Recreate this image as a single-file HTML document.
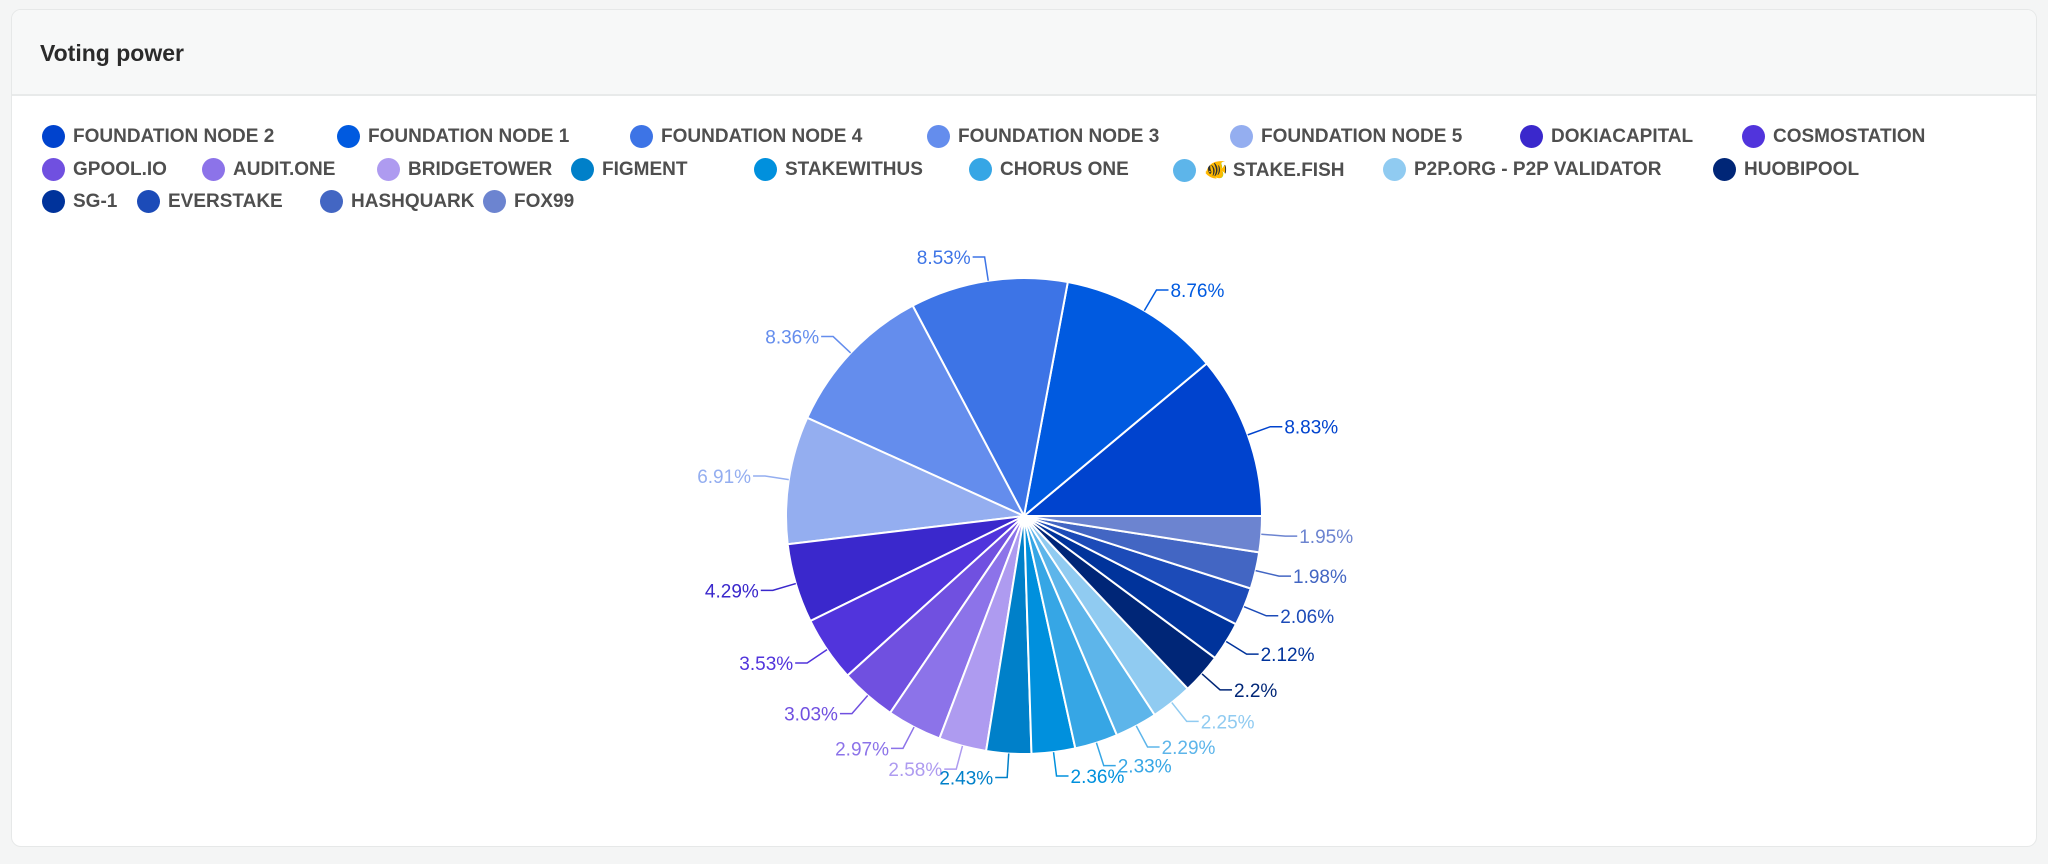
<!DOCTYPE html>
<html><head><meta charset="utf-8">
<style>
html,body{margin:0;padding:0;background:#f4f5f5;width:2048px;height:864px;overflow:hidden;font-family:"Liberation Sans",sans-serif;}
.card{position:absolute;left:11px;top:9px;width:2024px;height:836px;background:#fff;border:1px solid #e6e8e8;border-radius:10px;overflow:hidden;}
.head{position:absolute;left:0;top:0;width:100%;height:84px;background:#f7f8f8;border-bottom:2px solid #e8eaea;}
.title{position:absolute;left:28px;top:30px;font-size:23px;font-weight:bold;color:#2b2b2b;}
.li{position:absolute;display:flex;align-items:center;font-size:19px;font-weight:bold;color:#4f4f4f;white-space:nowrap;}
.dot{width:23px;height:23px;border-radius:50%;margin-right:8px;}
</style></head><body>
<div class="card">
 <div class="head"><div class="title">Voting power</div></div>
</div>
<div id="legend"></div>
<svg id="pie" width="2048" height="864" style="position:absolute;left:0;top:0"></svg>
<script>
const names=["FOUNDATION NODE 2","FOUNDATION NODE 1","FOUNDATION NODE 4","FOUNDATION NODE 3","FOUNDATION NODE 5","DOKIACAPITAL","COSMOSTATION","GPOOL.IO","AUDIT.ONE","BRIDGETOWER","FIGMENT","STAKEWITHUS","CHORUS ONE","🐠 STAKE.FISH","P2P.ORG - P2P VALIDATOR","HUOBIPOOL","SG-1","EVERSTAKE","HASHQUARK","FOX99"];
const values=[8.83,8.76,8.53,8.36,6.91,4.29,3.53,3.03,2.97,2.58,2.43,2.36,2.33,2.29,2.25,2.2,2.12,2.06,1.98,1.95];
const labels=["8.83%","8.76%","8.53%","8.36%","6.91%","4.29%","3.53%","3.03%","2.97%","2.58%","2.43%","2.36%","2.33%","2.29%","2.25%","2.2%","2.12%","2.06%","1.98%","1.95%"];
const colors=["#0043ce","#005ae0","#3d74e6","#648ded","#94aef0","#3a28cc","#5134dc","#7050e0","#8c73e9","#ae9bf0","#0080c9","#0090dd","#36a6e5","#5db5ea","#90cbf1","#002677","#00339b","#1c4bb8","#4366c3","#6c84d0"];
// legend layout (rows)
const rows=[[0,1,2,3,4,5,6],[7,8,9,10,11,12,13,14,15],[16,17,18,19]];
const rowX=[[42,337,630,927,1230,1520,1742],[42,202,377,571,754,969,1173,1383,1713],[42,137,320,483]];
const rowY=[137,170,202];
const lg=document.getElementById('legend');
rows.forEach((r,ri)=>r.forEach((idx,k)=>{
 const d=document.createElement('div');d.className='li';
 
 
 d.style.left=rowX[ri][k]+'px';d.style.top=(rowY[ri]-12)+'px';
 d.innerHTML='<span class="dot" style="background:'+colors[idx]+'"></span>'+names[idx];
 lg.appendChild(d);
}));
// pie
const svg=document.getElementById('pie');const NS='http://www.w3.org/2000/svg';
const cx=1024,cy=516,R=238;
const total=values.reduce((a,b)=>a+b,0);
let a0=0;
values.forEach((v,i)=>{
 const sweep=v/total*Math.PI*2;const a1=a0+sweep;
 const x0=cx+R*Math.cos(a0),y0=cy-R*Math.sin(a0),x1=cx+R*Math.cos(a1),y1=cy-R*Math.sin(a1);
 const p=document.createElementNS(NS,'path');
 p.setAttribute('d',`M${cx},${cy}L${x0},${y0}A${R},${R} 0 ${sweep>Math.PI?1:0} 0 ${x1},${y1}Z`);
 p.setAttribute('fill',colors[i]);p.setAttribute('stroke','#fff');p.setAttribute('stroke-width','2');
 
 
 svg.appendChild(p);
 const am=(a0+a1)/2,c=Math.cos(am),s=-Math.sin(am);
 const r1=R,r2=R+24;const right=c>=0;
 const lx=cx+r2*c,ly=cy+r2*s,ex=lx+(right?12:-12);
 const l=document.createElementNS(NS,'polyline');
 l.setAttribute('points',`${cx+r1*c},${cy+r1*s} ${lx},${ly} ${ex},${ly}`);
 l.setAttribute('fill','none');l.setAttribute('stroke',colors[i]);l.setAttribute('stroke-width','1.5');
 
 
 svg.appendChild(l);
 const t=document.createElementNS(NS,'text');
 t.setAttribute('x',ex+(right?2:-2));t.setAttribute('y',ly+7);
 t.setAttribute('text-anchor',right?'start':'end');
 t.setAttribute('font-size','19');t.setAttribute('fill',colors[i]);
 t.setAttribute('font-family','Liberation Sans, sans-serif');
 
 
 t.textContent=labels[i];svg.appendChild(t);
 a0=a1;
});
</script>
</body></html>
